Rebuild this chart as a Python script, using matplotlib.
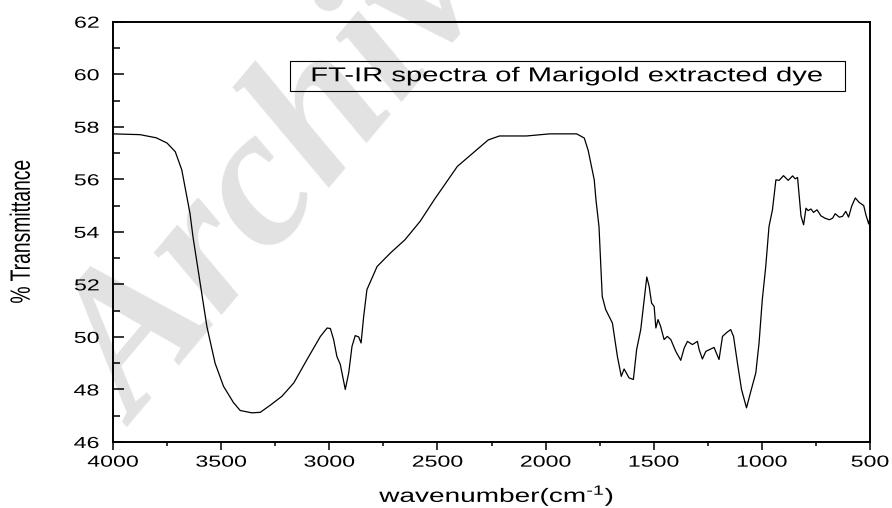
import matplotlib
matplotlib.use("Agg")
import matplotlib.pyplot as plt
from matplotlib.patheffects import AbstractPathEffect
from matplotlib.transforms import Affine2D
from matplotlib.patches import Rectangle

plt.rcParams['font.family'] = ['Liberation Sans', 'DejaVu Sans']
plt.rcParams['mathtext.fontset'] = 'custom'
plt.rcParams['mathtext.rm'] = 'Liberation Sans'
plt.rcParams['mathtext.it'] = 'Liberation Sans'

# FT-IR spectrum
wavenumber = [4000, 3875, 3800, 3750, 3712, 3682, 3667, 3644, 3630, 3597, 3566, 3528, 3489,
              3443, 3412, 3358, 3319, 3273, 3219, 3164, 3103, 3041, 3010, 2995, 2980,
              2965, 2949, 2926, 2910, 2895, 2880, 2864, 2853, 2841, 2826, 2779, 2718,
              2650, 2580, 2515, 2408, 2319, 2265, 2213, 2088, 1981, 1856, 1821, 1803,
              1775, 1767, 1753, 1738, 1722, 1691, 1668, 1650, 1637, 1614, 1594, 1579,
              1560, 1532, 1521, 1510, 1498, 1490, 1480, 1468, 1452, 1437, 1421, 1398,
              1375, 1359, 1344, 1321, 1298, 1290, 1275, 1259, 1221, 1198, 1182, 1162,
              1144, 1131, 1113, 1094, 1071, 1051, 1028, 1013, 998, 982, 967, 951,
              935, 920, 900, 878, 858, 846, 835, 827, 819, 807, 796, 786,
              773, 761, 745, 727, 708, 688, 673, 661, 642, 627, 612, 599,
              585, 568, 550, 529, 519, 506, 500]
transmittance = [57.73, 57.70, 57.58, 57.38, 57.05, 56.36, 55.70, 54.70, 53.80, 52.06, 50.40, 49.00, 48.12,
                 47.50, 47.20, 47.11, 47.13, 47.40, 47.74, 48.25, 49.14, 50.02, 50.34, 50.32, 49.90,
                 49.26, 48.95, 48.00, 48.64, 49.64, 50.05, 50.00, 49.77, 50.78, 51.80, 52.68, 53.19,
                 53.70, 54.40, 55.22, 56.49, 57.12, 57.50, 57.65, 57.65, 57.73, 57.73, 57.57, 57.10,
                 55.98, 55.22, 54.20, 51.54, 51.04, 50.53, 49.26, 48.50, 48.78, 48.44, 48.38, 49.52,
                 50.28, 52.28, 51.92, 51.29, 51.16, 50.34, 50.66, 50.40, 49.90, 50.02, 49.90, 49.45,
                 49.11, 49.58, 49.83, 49.71, 49.83, 49.52, 49.16, 49.45, 49.60, 49.14, 50.02, 50.17,
                 50.28, 50.02, 49.01, 48.00, 47.30, 47.93, 48.63, 49.77, 51.42, 52.68, 54.20, 54.84,
                 55.98, 55.96, 56.14, 55.96, 56.13, 56.02, 56.07, 55.35, 54.60, 54.27, 54.90, 54.81,
                 54.87, 54.74, 54.84, 54.61, 54.52, 54.46, 54.52, 54.69, 54.56, 54.59, 54.78, 54.56,
                 54.97, 55.29, 55.12, 55.00, 54.65, 54.30, 54.56]

xticks = [4000, 3500, 3000, 2500, 2000, 1500, 1000, 500]
yticks = [46, 48, 50, 52, 54, 56, 58, 60, 62]
title = 'FT-IR spectra of Marigold extracted dye'


# the original picture is stretched sideways, text included
class StretchX(AbstractPathEffect):
    def __init__(self, sx=1.45, anchor='center'):
        super().__init__()
        self.sx = sx
        self.anchor = anchor

    def draw_path(self, renderer, gc, tpath, affine, rgbFace=None):
        ext = tpath.get_extents(affine)
        x0 = {'left': ext.x0, 'right': ext.x1, 'center': 0.5 * (ext.x0 + ext.x1)}[self.anchor]
        t = affine + Affine2D().translate(-x0, 0).scale(self.sx, 1).translate(x0, 0)
        renderer.draw_path(gc, tpath, t, rgbFace)


fig = plt.figure(figsize=(8.92, 5.08), dpi=100)
ax = fig.add_axes([113 / 892, 1 - 442 / 508, 757 / 892, 420.3 / 508])
ax.set_facecolor('none')

# watermark behind the plot
fig.text(0.345, 0.705, 'Archive', fontsize=144, family='Liberation Serif',
         weight='bold', style='italic', color='#e2e2e2', rotation=50,
         ha='center', va='center', zorder=-1)

ax.plot(wavenumber, transmittance, color='black', lw=0.9)

ax.set_xlim(4000, 500)
ax.set_ylim(46, 62)
ax.set_xticks(xticks, [str(v) for v in xticks])
ax.set_yticks(yticks, [str(v) for v in yticks])
ax.set_xticks(range(3750, 500, -500), minor=True)
ax.set_yticks(range(47, 62, 2), minor=True)

for s in ax.spines.values():
    s.set_linewidth(1.4)
ax.tick_params(axis='y', which='major', direction='in', length=8, width=1.1,
               pad=9.9, labelsize=11.5)
ax.tick_params(axis='y', which='minor', direction='in', length=4.7, width=1.1)
ax.tick_params(axis='x', which='major', direction='out', length=5.8, width=1.1,
               pad=3.3, labelsize=11.5)
ax.tick_params(axis='x', which='minor', direction='out', length=2.9, width=1.1)

xl = ax.set_xlabel('wavenumber(cm$^{\\text{-1}}$)', fontsize=13.9, va='center')
ax.xaxis.set_label_coords(0.5066, -0.1285)
yl = ax.set_ylabel('% Transmittance', fontsize=13.9, va='center')
ax.yaxis.set_label_coords(-0.12, 0.5)
xl.set_path_effects([StretchX()])
yl.set_path_effects([StretchX()])

# boxed caption
ax.add_patch(Rectangle((177 / 757, (442 - 91) / 420.3), 555 / 757, 30.5 / 420.3,
                       transform=ax.transAxes, fill=False, edgecolor='black', lw=0.8))
cap = ax.text((567.5 - 113) / 757, (442 - 75.8) / 420.3, title, transform=ax.transAxes,
              fontsize=14.5, ha='center', va='center')
cap.set_path_effects([StretchX()])

for lab in ax.get_xticklabels():
    lab.set_path_effects([StretchX(anchor='center')])
for lab in ax.get_yticklabels():
    lab.set_path_effects([StretchX(anchor='right')])

fig.savefig('out.png', dpi=100)
